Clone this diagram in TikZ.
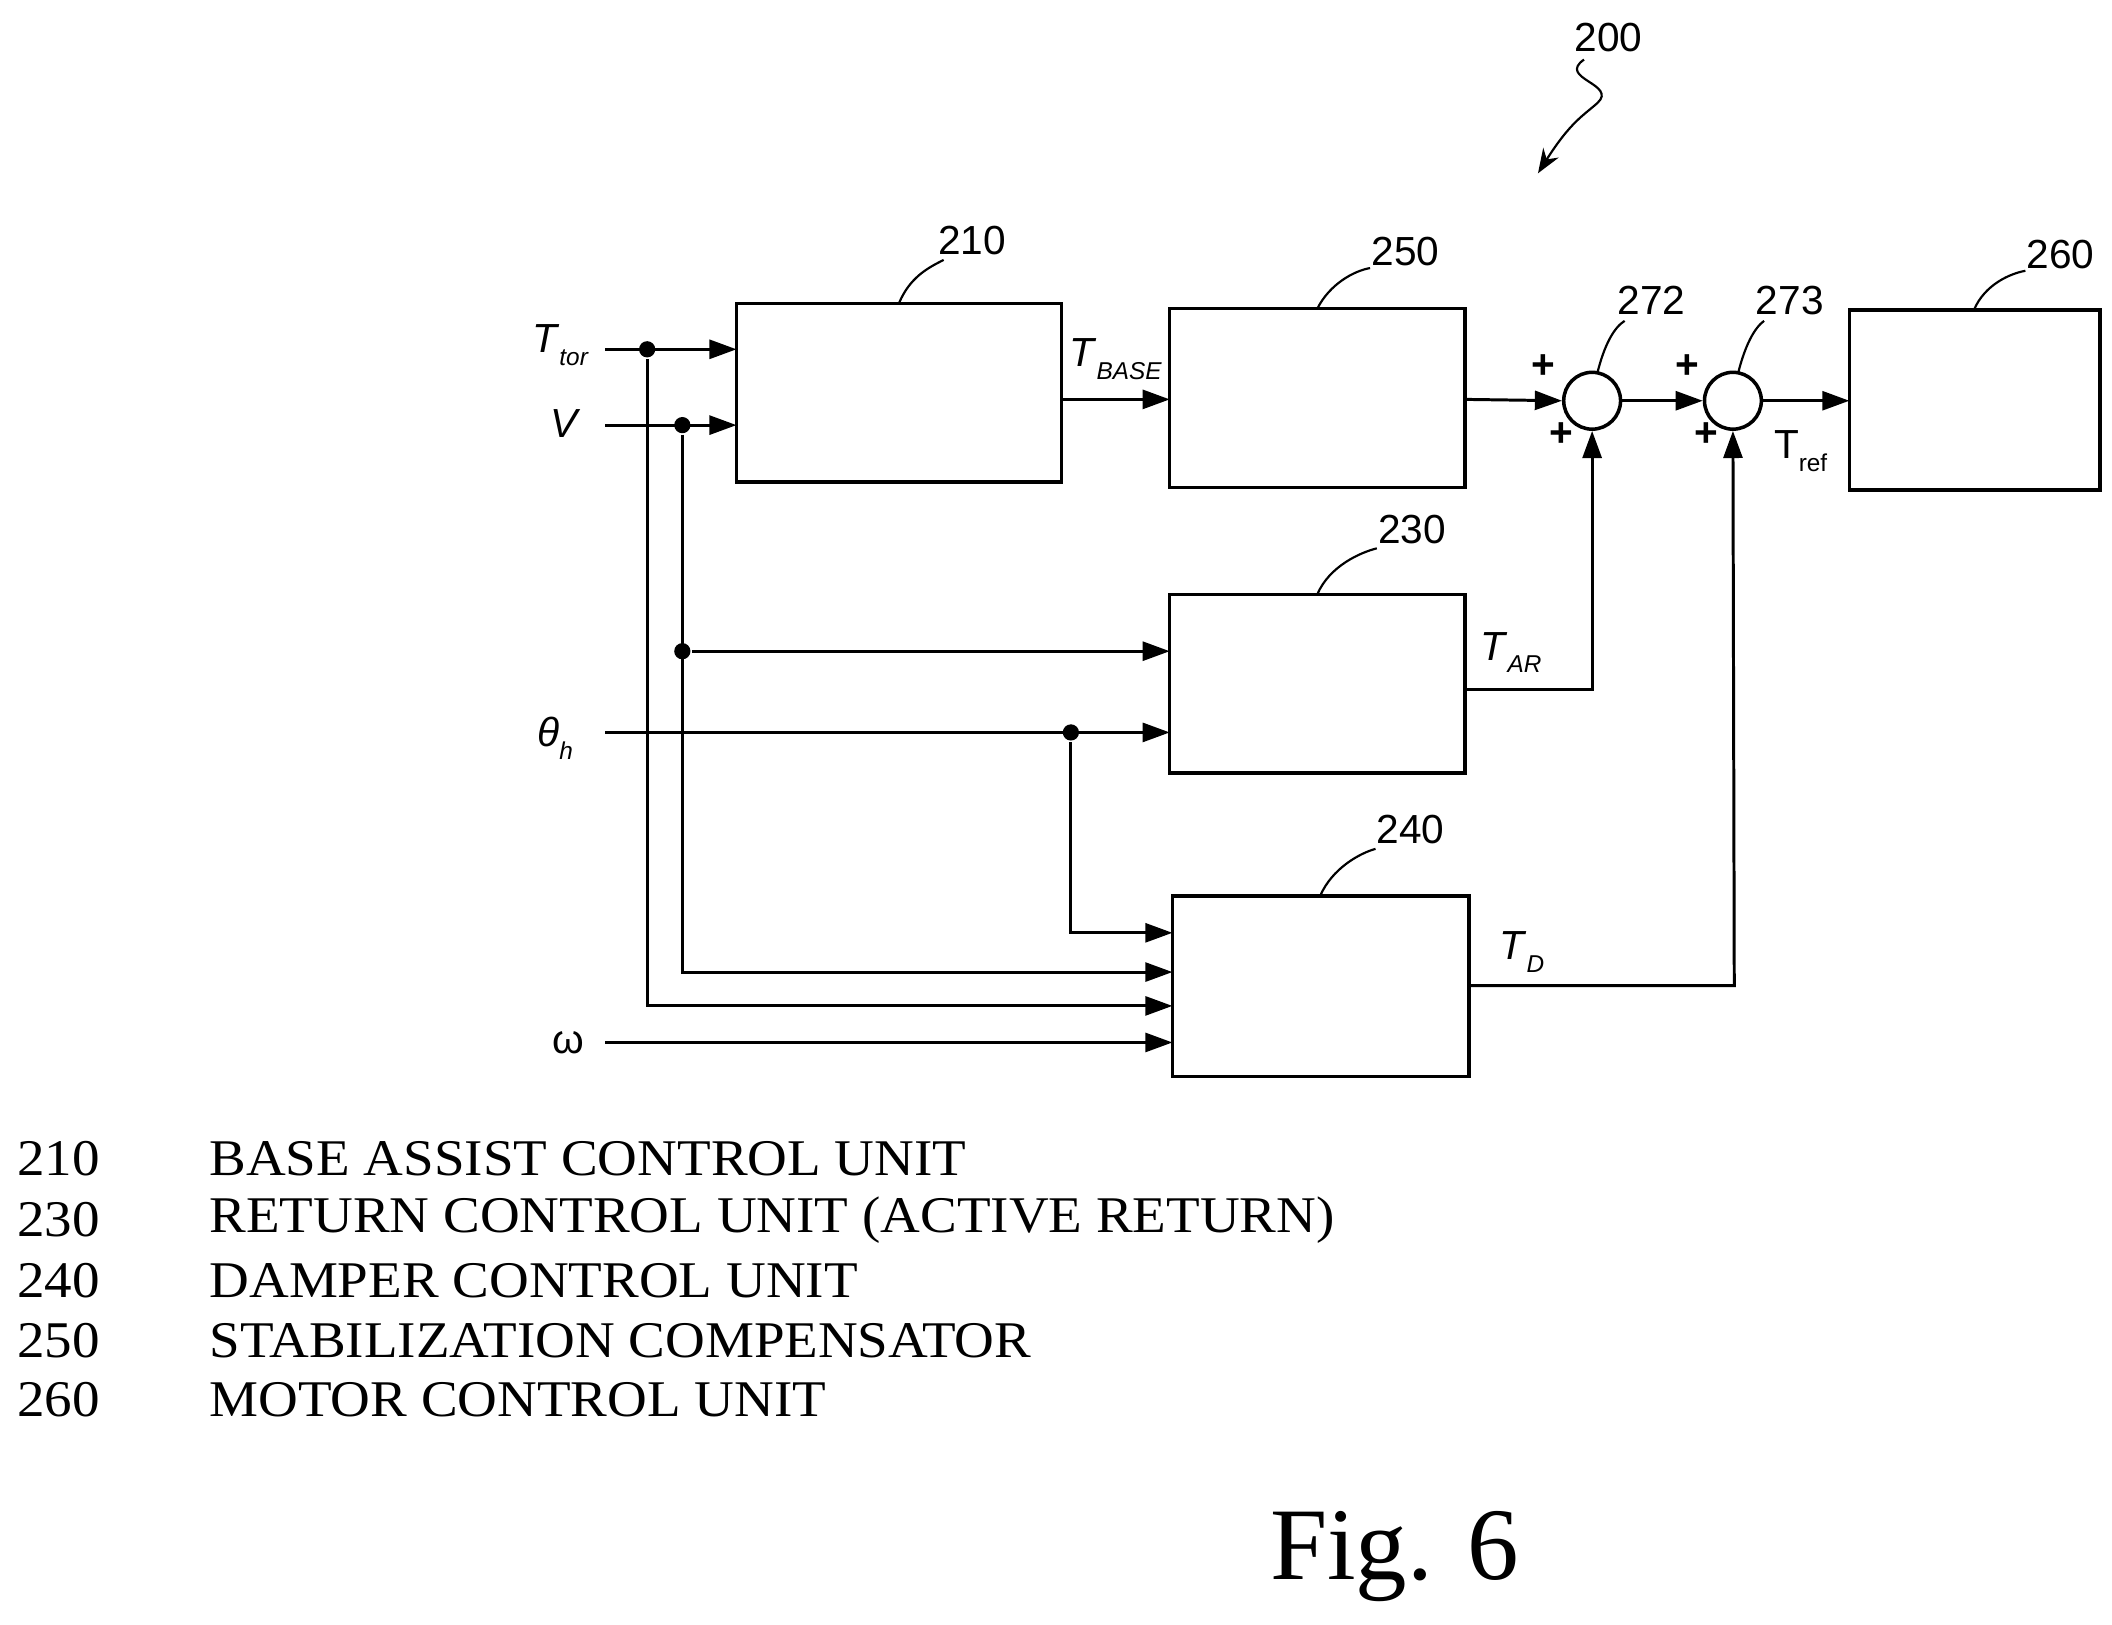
\documentclass[tikz,border=0pt]{standalone}
\usepackage{fontspec}
\setmainfont{Liberation Serif}
\newfontfamily\legf[FakeStretch=1.07]{Liberation Serif}
\newfontfamily\arialf{Liberation Sans}
\usetikzlibrary{arrows.meta,decorations.pathmorphing}
\begin{document}
\begin{tikzpicture}[x=0.5pt,y=-0.5pt,line width=1.1pt,
  blk/.style={draw,line width=1.3pt},
  arr/.style={-{Triangle[length=10pt,width=7pt]}},
  lab/.style={font=\arialf\fontsize{15}{15}\selectfont},
  num/.style={font=\arialf\fontsize{15}{15}\selectfont},
  dot/.style={circle,fill,inner sep=0pt,minimum size=6pt},
  sum/.style={circle,draw,line width=1.3pt,minimum size=21pt,inner sep=0pt},
  leg/.style={font=\legf\fontsize{19}{19}\selectfont,anchor=west}]
\useasboundingbox (0,0) rectangle (1560,1200);
% blocks
\draw[blk] (544,224) rectangle (784,356); \coordinate (b210) at (664,224);
\draw[blk] (864,228) rectangle (1082,360); \coordinate (b250) at (973,228);
\draw[blk] (864,439) rectangle (1082,571); \coordinate (b230) at (973,439);
\draw[blk] (866,662) rectangle (1085,795); \coordinate (b240) at (975,662);
\draw[blk] (1366,229) rectangle (1551,362); \coordinate (b260) at (1458,229);
\node[sum] (s272) at (1176,296) {};
\node[sum] (s273) at (1280,296) {};
% input labels
\node[lab] (ttor) at (414,255) {\textit{T}\raisebox{-0.6ex}{\small\textit{tor}}};
\node[lab] (v) at (418,313) {\textit{V}};
\node[lab] (th) at (410,545) {\textit{θ}\raisebox{-0.6ex}{\small\textit{h}}};
\node[lab] (om) at (420,770) {ω};
% dots
\node[dot] (d1) at (478,258) {};
\node[dot] (d2) at (504,314) {};
\node[dot] (d3) at (504,481) {};
\node[dot] (d4) at (791,541) {};
% inputs
\draw[arr] (447,258) -- (544,258);
\draw[arr] (447,314) -- (544,314);
\draw[arr] (447,541) -- (864,541);
\draw[arr] (447,770) -- (866,770);
\draw[arr] (d1) -- (478,743) -- (866,743);
\draw[arr] (d2) -- (504,718) -- (866,718);
\draw[arr] (d3) -- (864,481);
\draw[arr] (d4) -- (791,689) -- (866,689);
% forward path
\draw[arr] (784,295) -- (864,295);
\node[lab] at (824,265) {\textit{T}\raisebox{-0.6ex}{\small\textit{BASE}}};
\draw[arr] (1082,295) -- (s272.west);
\draw[arr] (s272.east) -- (s273.west);
\draw[arr] (s273.east) -- (1366,296);
\node[lab] at (1330,333) {T\raisebox{-0.6ex}{\small ref}};
\draw[arr] (1082,509) -- (1176,509) -- (s272.south);
\node[lab] at (1116,482) {\textit{T}\raisebox{-0.6ex}{\small\textit{AR}}};
\draw[arr] (1085,728) -- (1281,728) -- (s273.south);
\node[lab] at (1124,703) {\textit{T}\raisebox{-0.6ex}{\small\textit{D}}};
\foreach \p in {(1140,271),(1153,321),(1246,271),(1260,321)}
  \node[font=\arialf\bfseries\fontsize{15}{15}\selectfont] at \p {+};
% reference numbers
\node[num] (n210) at (718,178) {210}; \draw[line width=0.8pt] (b210) .. controls (672,205) and (685,198) .. (697,192);
\node[num] (n250) at (1038,186) {250}; \draw[line width=0.8pt] (b250) .. controls (982,210) and (1000,200) .. (1012,198);
\node[num] (n230) at (1043,391) {230}; \draw[line width=0.8pt] (b230) .. controls (982,418) and (1005,408) .. (1017,405);
\node[num] (n240) at (1042,613) {240}; \draw[line width=0.8pt] (b240) .. controls (984,641) and (1005,630) .. (1016,627);
\node[num] (n260) at (1522,188) {260}; \draw[line width=0.8pt] (b260) .. controls (1466,210) and (1485,202) .. (1496,200);
\node[num] (n272) at (1220,222) {272}; \draw[line width=0.8pt] (1180,275) .. controls (1185,255) and (1192,242) .. (1200,237);
\node[num] (n273) at (1322,222) {273}; \draw[line width=0.8pt] (1284,275) .. controls (1289,255) and (1296,242) .. (1303,237);
\node[num] (n200) at (1188,28) {200};
\coordinate (a200) at (1136,128);
\draw[line width=0.8pt,-{Stealth[length=9pt]}] (1170,44) .. controls (1150,58) and (1195,62) .. (1180,76) .. controls (1170,85) and (1160,90) .. (a200);
% legend
\node[leg] (l1) at (5,856) {210}; \node[leg] at (147,856) {BASE ASSIST CONTROL UNIT};
\node[leg] (l2) at (5,901) {230}; \node[leg] at (147,901) {RETURN CONTROL UNIT (ACTIVE RETURN)};
\node[leg] (l3) at (5,946) {240}; \node[leg] at (147,946) {DAMPER CONTROL UNIT};
\node[leg] (l4) at (5,990) {250}; \node[leg] at (147,990) {STABILIZATION COMPENSATOR};
\node[leg] (l5) at (5,1034) {260}; \node[leg] at (147,1034) {MOTOR CONTROL UNIT};
\node[font=\fontsize{38}{38}\selectfont] (fig) at (1030,1150) {Fig. 6};
\end{tikzpicture}
\end{document}
